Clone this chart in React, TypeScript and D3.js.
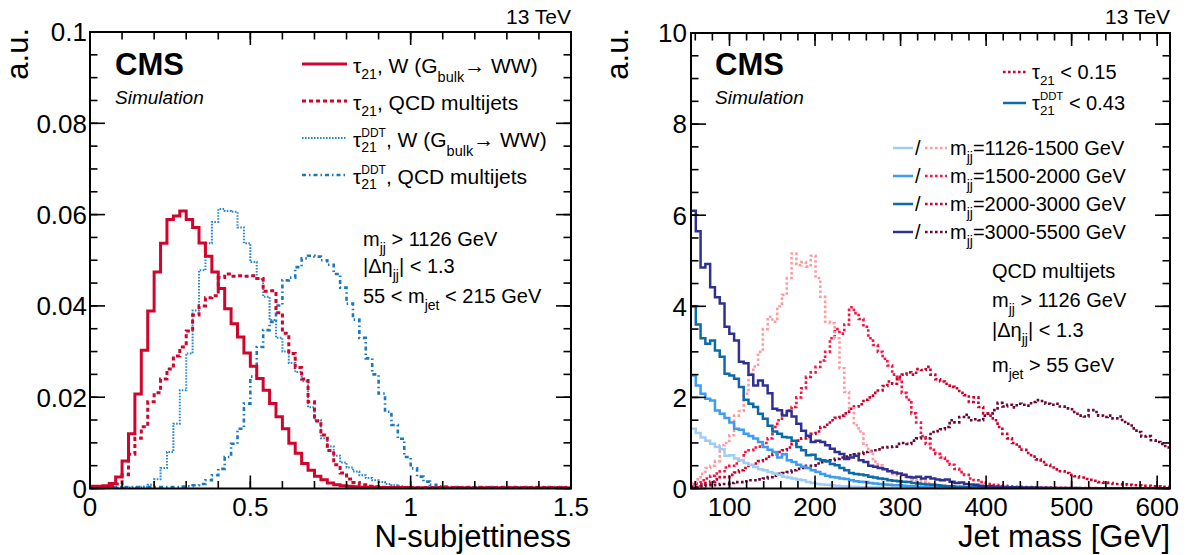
import React from "react";
import * as d3 from "d3";

const FONT = "'Liberation Sans', Arial, Helvetica, sans-serif";

// ---------------- Left panel: N-subjettiness (bins of 0.02 from 0 to 1.5) ----------------
const nsubBinLow = 0;
const nsubBinWidth = 0.02;
const nsubMajorTicks = [0, 0.5, 1, 1.5];
const nsubTickLabels = ["0", "0.5", "1", "1.5"];
const auLeftTicks = [0, 0.02, 0.04, 0.06, 0.08, 0.1];
const auLeftTickLabels = ["0", "0.02", "0.04", "0.06", "0.08", "0.1"];

const tau21W = [
  0.0005, 0.0005, 0.0006, 0.0011, 0.0025, 0.006, 0.012, 0.0207, 0.0303, 0.0389,
  0.0474, 0.0537, 0.0589, 0.0597, 0.0608, 0.0589, 0.0572, 0.0538, 0.0509, 0.0474,
  0.0438, 0.0394, 0.0361, 0.0332, 0.0297, 0.0268, 0.0241, 0.0215, 0.0186, 0.0157,
  0.0131, 0.0099, 0.0077, 0.0055, 0.004, 0.0027, 0.0019, 0.0012, 0.0008, 0.0006,
  0.0005, 0.0004, 0.0003, 0.0003, 0.0003, 0.0002, 0.0002, 0.0002, 0.0002, 0.0002,
  0.0001, 0.0001, 0.0001, 0.0001, 0.0001, 0.0001, 0.0001, 0.0001, 0.0001, 0.0001,
  0.0001, 0.0001, 0.0001, 0.0001, 0.0001, 0.0001, 0.0001, 0.0001, 0.0001, 0.0001,
  0.0001, 0.0001, 0.0001, 0.0001, 0.0001,
];
const tau21QCD = [
  0.0003, 0.0003, 0.0003, 0.0005, 0.001, 0.003, 0.0075, 0.011, 0.0135, 0.019,
  0.021, 0.024, 0.0262, 0.029, 0.031, 0.0345, 0.038, 0.04, 0.0418, 0.0422,
  0.0462, 0.047, 0.0465, 0.0466, 0.0465, 0.0466, 0.046, 0.0432, 0.0433, 0.0385,
  0.034, 0.0296, 0.0265, 0.024, 0.019, 0.0148, 0.0117, 0.0083, 0.0052, 0.0034,
  0.0021, 0.0013, 0.0008, 0.0005, 0.0004, 0.0003, 0.0003, 0.0003, 0.0002, 0.0002,
  0.0002, 0.0002, 0.0002, 0.0002, 0.0002, 0.0002, 0.0002, 0.0002, 0.0002, 0.0002,
  0.0002, 0.0002, 0.0002, 0.0002, 0.0002, 0.0002, 0.0002, 0.0002, 0.0002, 0.0002,
  0.0002, 0.0002, 0.0002, 0.0002, 0.0002,
];
const tau21DDTW = [
  0.0002, 0.0002, 0.0002, 0.0002, 0.0002, 0.0002, 0.0002, 0.0002, 0.0004, 0.0008,
  0.002, 0.0045, 0.008, 0.0142, 0.0215, 0.0296, 0.039, 0.0478, 0.0537, 0.0584,
  0.0612, 0.0608, 0.0606, 0.0572, 0.0537, 0.0496, 0.0459, 0.042, 0.0369, 0.033,
  0.03, 0.0275, 0.0255, 0.0235, 0.0178, 0.015, 0.011, 0.0092, 0.0072, 0.0057,
  0.0046, 0.0037, 0.0029, 0.0023, 0.0018, 0.0014, 0.001, 0.0007, 0.0005, 0.0004,
  0.0003, 0.0003, 0.0003, 0.0003, 0.0002, 0.0002, 0.0002, 0.0002, 0.0002, 0.0002,
  0.0002, 0.0002, 0.0002, 0.0002, 0.0002, 0.0002, 0.0002, 0.0002, 0.0002, 0.0002,
  0.0002, 0.0002, 0.0002, 0.0002, 0.0002,
];
const tau21DDTQCD = [
  0.0003, 0.0003, 0.0003, 0.0003, 0.0003, 0.0003, 0.0003, 0.0003, 0.0003, 0.0003,
  0.0003, 0.0003, 0.0003, 0.0003, 0.0004, 0.0005, 0.0007, 0.001, 0.0018, 0.0029,
  0.0043, 0.0069, 0.0098, 0.0131, 0.0186, 0.0245, 0.031, 0.0347, 0.0365, 0.0401,
  0.0456, 0.0462, 0.0485, 0.0504, 0.051, 0.0508, 0.05, 0.049, 0.047, 0.044,
  0.0405, 0.037, 0.033, 0.0285, 0.025, 0.0208, 0.0168, 0.0139, 0.0109, 0.0069,
  0.0044, 0.0026, 0.0015, 0.0008, 0.0005, 0.0004, 0.0003, 0.0003, 0.0003, 0.0003,
  0.0003, 0.0003, 0.0003, 0.0003, 0.0003, 0.0003, 0.0003, 0.0003, 0.0003, 0.0003,
  0.0003, 0.0003, 0.0003, 0.0003, 0.0003,
];

// ---------------- Right panel: jet mass (bins of 5.6 GeV from 55 to 615) ----------------
const massBinLow = 55;
const massBinWidth = 5.6;
const massMajorTicks = [100, 200, 300, 400, 500, 600];
const massTickLabels = ["100", "200", "300", "400", "500", "600"];
const auRightTicks = [0, 2, 4, 6, 8, 10];
const auRightTickLabels = ["0", "2", "4", "6", "8", "10"];

// tau21DDT < 0.43 (solid)
const ddt1126 = [
  1.31, 1.22, 1.12, 1.05, 0.98, 0.91, 0.86, 0.72, 0.73, 0.66,
  0.62, 0.56, 0.52, 0.47, 0.42, 0.4, 0.36, 0.33, 0.3, 0.26,
  0.24, 0.22, 0.2, 0.18, 0.14, 0.12, 0.1, 0.09, 0.08, 0.07,
  0.06, 0.05, 0.05, 0.04, 0.04, 0.03, 0.03, 0.02, 0.02, 0.02,
  0.015, 0.015, 0.01, 0.01, 0.01, 0.008, 0.008, 0.006, 0.006, 0.005,
  0.005, 0.004, 0.004, 0.004, 0.003, 0.003, 0.003, 0.003, 0.002, 0.002,
  0.002, 0.002, 0.002, 0.002, 0.002, 0.002, 0.002, 0.002, 0.002, 0.002,
  0.002, 0.002, 0.002, 0.002, 0.002, 0.002, 0.002, 0.002, 0.002, 0.002,
  0.002, 0.002, 0.002, 0.002, 0.002, 0.002, 0.002, 0.002, 0.002, 0.002,
  0.002, 0.002, 0.002, 0.002, 0.002, 0.002, 0.002, 0.002, 0.002, 0.002,
];
const ddt1500 = [
  2.48, 2.26, 2.08, 1.97, 1.93, 1.71, 1.64, 1.55, 1.45, 1.31,
  1.29, 1.2, 1.15, 1.1, 1.02, 0.91, 0.85, 0.8, 0.68, 0.75,
  0.62, 0.58, 0.52, 0.48, 0.45, 0.4, 0.36, 0.32, 0.28, 0.25,
  0.24, 0.22, 0.21, 0.18, 0.16, 0.15, 0.14, 0.12, 0.11, 0.1,
  0.09, 0.08, 0.07, 0.07, 0.06, 0.05, 0.05, 0.04, 0.04, 0.03,
  0.03, 0.03, 0.02, 0.02, 0.02, 0.02, 0.015, 0.015, 0.01, 0.01,
  0.01, 0.01, 0.008, 0.008, 0.008, 0.006, 0.006, 0.006, 0.005, 0.005,
  0.005, 0.004, 0.004, 0.004, 0.004, 0.003, 0.003, 0.003, 0.003, 0.003,
  0.002, 0.002, 0.002, 0.002, 0.002, 0.002, 0.002, 0.002, 0.002, 0.002,
  0.002, 0.002, 0.002, 0.002, 0.002, 0.002, 0.002, 0.002, 0.002, 0.002,
];
const ddt2000 = [
  4.0, 3.6, 3.3, 3.18, 3.25, 3.03, 2.89, 2.52, 2.48, 2.41,
  2.23, 1.95, 1.86, 1.79, 1.64, 1.53, 1.38, 1.25, 1.2, 1.13,
  1.12, 1.05, 0.91, 0.84, 0.73, 0.74, 0.65, 0.62, 0.6, 0.54,
  0.51, 0.45, 0.4, 0.34, 0.32, 0.31, 0.29, 0.26, 0.24, 0.22,
  0.21, 0.18, 0.17, 0.16, 0.15, 0.14, 0.12, 0.11, 0.1, 0.09,
  0.08, 0.07, 0.06, 0.05, 0.05, 0.04, 0.04, 0.03, 0.03, 0.03,
  0.02, 0.02, 0.02, 0.02, 0.02, 0.015, 0.015, 0.015, 0.01, 0.01,
  0.01, 0.01, 0.01, 0.008, 0.008, 0.008, 0.006, 0.006, 0.006, 0.005,
  0.005, 0.005, 0.004, 0.004, 0.004, 0.004, 0.003, 0.003, 0.003, 0.003,
  0.003, 0.002, 0.002, 0.002, 0.002, 0.002, 0.002, 0.002, 0.002, 0.002,
];
const ddt3000 = [
  6.1, 5.65, 4.85, 4.93, 4.42, 4.2, 4.06, 3.55, 3.4, 3.25,
  2.78, 2.75, 2.5, 2.26, 2.37, 2.26, 2.09, 1.75, 1.72, 1.6,
  1.7, 1.58, 1.42, 1.27, 1.16, 1.02, 1.05, 1.02, 0.95, 0.87,
  0.8, 0.76, 0.65, 0.68, 0.72, 0.62, 0.58, 0.5, 0.48, 0.45,
  0.42, 0.38, 0.35, 0.33, 0.3, 0.25, 0.24, 0.26, 0.22, 0.25,
  0.22, 0.2, 0.18, 0.2, 0.15, 0.12, 0.13, 0.1, 0.09, 0.08,
  0.06, 0.05, 0.05, 0.04, 0.04, 0.035, 0.03, 0.03, 0.025, 0.02,
  0.02, 0.02, 0.015, 0.015, 0.015, 0.01, 0.01, 0.01, 0.01, 0.01,
  0.01, 0.008, 0.008, 0.008, 0.006, 0.006, 0.006, 0.005, 0.005, 0.005,
  0.004, 0.004, 0.004, 0.004, 0.003, 0.003, 0.003, 0.003, 0.003, 0.003,
];
// tau21 < 0.15 (dotted)
const t21_1126 = [
  0.1, 0.2, 0.32, 0.45, 0.5, 0.6, 0.95, 1.0, 1.17, 1.6,
  1.7, 2.08, 2.52, 2.68, 3.0, 3.5, 3.77, 3.66, 4.0, 4.25,
  4.62, 5.16, 4.9, 4.97, 4.87, 5.11, 4.62, 4.21, 3.66, 3.63,
  3.3, 2.64, 2.12, 1.76, 1.39, 1.25, 0.95, 0.81, 0.59, 0.51,
  0.45, 0.4, 0.32, 0.29, 0.26, 0.25, 0.2, 0.18, 0.15, 0.12,
  0.1, 0.08, 0.07, 0.06, 0.05, 0.04, 0.04, 0.03, 0.03, 0.02,
  0.02, 0.02, 0.015, 0.015, 0.01, 0.01, 0.01, 0.01, 0.008, 0.008,
  0.008, 0.006, 0.006, 0.006, 0.005, 0.005, 0.005, 0.004, 0.004, 0.004,
  0.004, 0.003, 0.003, 0.003, 0.003, 0.003, 0.003, 0.003, 0.003, 0.003,
  0.003, 0.003, 0.003, 0.003, 0.003, 0.003, 0.003, 0.003, 0.003, 0.003,
];
const t21_1500 = [
  0.1, 0.12, 0.18, 0.22, 0.28, 0.33, 0.38, 0.46, 0.5, 0.55,
  0.62, 0.8, 0.84, 0.9, 0.92, 1.0, 1.1, 1.35, 1.5, 1.64,
  1.71, 1.79, 2.0, 2.2, 2.45, 2.55, 2.67, 2.81, 3.0, 3.3,
  3.5, 3.4, 3.6, 3.98, 3.85, 3.72, 3.55, 3.3, 3.15, 3.0,
  2.85, 2.7, 2.5, 2.4, 2.1, 1.95, 1.65, 1.45, 1.15, 0.98,
  0.85, 0.76, 0.68, 0.6, 0.52, 0.43, 0.36, 0.3, 0.22, 0.18,
  0.14, 0.12, 0.1, 0.08, 0.07, 0.06, 0.05, 0.04, 0.04, 0.03,
  0.03, 0.03, 0.02, 0.02, 0.02, 0.02, 0.015, 0.015, 0.01, 0.01,
  0.01, 0.01, 0.008, 0.008, 0.008, 0.006, 0.006, 0.006, 0.005, 0.005,
  0.005, 0.005, 0.004, 0.004, 0.004, 0.004, 0.004, 0.003, 0.003, 0.003,
];
const t21_2000 = [
  0.08, 0.1, 0.1, 0.12, 0.15, 0.2, 0.25, 0.25, 0.3, 0.35,
  0.4, 0.45, 0.5, 0.55, 0.6, 0.65, 0.7, 0.75, 0.8, 0.84,
  0.9, 0.98, 1.05, 1.1, 1.13, 1.2, 1.25, 1.35, 1.4, 1.5,
  1.55, 1.6, 1.65, 1.75, 1.8, 1.85, 1.95, 2.0, 2.1, 2.15,
  2.25, 2.35, 2.3, 2.45, 2.5, 2.55, 2.5, 2.62, 2.6, 2.67,
  2.5, 2.4, 2.35, 2.3, 2.23, 2.2, 2.1, 2.05, 1.9, 2.0,
  1.79, 1.65, 1.6, 1.5, 1.35, 1.2, 1.1, 1.0, 0.92, 0.85,
  0.78, 0.7, 0.64, 0.58, 0.52, 0.46, 0.42, 0.38, 0.34, 0.3,
  0.27, 0.24, 0.21, 0.19, 0.17, 0.14, 0.13, 0.12, 0.1, 0.1,
  0.09, 0.08, 0.07, 0.07, 0.06, 0.06, 0.05, 0.05, 0.04, 0.04,
];
const t21_3000 = [
  0.03, 0.03, 0.05, 0.07, 0.07, 0.08, 0.1, 0.1, 0.12, 0.14,
  0.14, 0.16, 0.18, 0.18, 0.2, 0.22, 0.25, 0.28, 0.32, 0.34,
  0.36, 0.4, 0.43, 0.45, 0.5, 0.5, 0.55, 0.58, 0.6, 0.62,
  0.65, 0.68, 0.7, 0.73, 0.75, 0.76, 0.8, 0.82, 0.84, 0.86,
  0.9, 0.91, 0.92, 0.98, 1.0, 0.98, 1.05, 1.1, 1.12, 1.1,
  1.24, 1.26, 1.3, 1.35, 1.5, 1.45, 1.57, 1.62, 1.5, 1.52,
  1.5, 1.6, 1.65, 1.72, 1.88, 1.8, 1.84, 1.78, 1.86, 1.84,
  1.82, 1.9, 1.94, 1.92, 1.86, 1.84, 1.86, 1.8, 1.76, 1.74,
  1.64, 1.6, 1.58, 1.72, 1.68, 1.6, 1.57, 1.6, 1.54, 1.58,
  1.46, 1.42, 1.32, 1.24, 1.14, 1.15, 1.06, 1.02, 0.98, 0.9,
];

type Series = { values: number[]; color: string; width: number; dash?: string };

const leftSeries: Series[] = [
  { values: tau21DDTQCD, color: "#1a78be", width: 2.6, dash: "4 3 1.5 3" },
  { values: tau21DDTW, color: "#2a88cc", width: 2, dash: "1.6 1.4" },
  { values: tau21QCD, color: "#d0042c", width: 3, dash: "4 3" },
  { values: tau21W, color: "#d0042c", width: 3 },
];

const rightSeries: Series[] = [
  { values: t21_3000, color: "#6d0532", width: 2.6, dash: "2.6 2.4" },
  { values: t21_2000, color: "#d0002e", width: 2.6, dash: "2.6 2.4" },
  { values: t21_1500, color: "#ff1040", width: 2.6, dash: "2.6 2.4" },
  { values: t21_1126, color: "#ff9aa0", width: 2.6, dash: "2.6 2.4" },
  { values: ddt1126, color: "#a0cdf5", width: 2.5 },
  { values: ddt1500, color: "#3d9cf0", width: 2.5 },
  { values: ddt2000, color: "#0c6aa6", width: 2.5 },
  { values: ddt3000, color: "#2e3192", width: 2.5 },
];

const mjjLabels = ["=1126-1500 GeV", "=1500-2000 GeV", "=2000-3000 GeV", "=3000-5500 GeV"];
const mjjSolidColors = ["#a0cdf5", "#3d9cf0", "#0c6aa6", "#2e3192"];
const mjjDottedColors = ["#ff9aa0", "#ff1040", "#d0002e", "#6d0532"];

function stepPath(vals: number[], lo: number, w: number, xs: any, ys: any) {
  const pts: [number, number][] = vals.map((v, i) => [lo + i * w, v]);
  pts.push([lo + vals.length * w, vals[vals.length - 1]]);
  return d3
    .line<[number, number]>()
    .x((d) => xs(d[0]))
    .y((d) => ys(d[1]))
    .curve(d3.curveStepAfter)(pts) as string;
}

function Frame({ xs, ys, xMajor, xMinor, yMajor, yMinor }: any) {
  const [x0, x1] = xs.range();
  const [yb, yt] = ys.range();
  const MX = 13, MY = 15, m = 7.5;
  const els: any[] = [];
  xMinor.forEach((v: number, i: number) => {
    const x = xs(v);
    els.push(<line key={"xb" + i} x1={x} x2={x} y1={yb} y2={yb - m} />);
    els.push(<line key={"xt" + i} x1={x} x2={x} y1={yt} y2={yt + m} />);
  });
  xMajor.forEach((v: number, i: number) => {
    const x = xs(v);
    els.push(<line key={"Xb" + i} x1={x} x2={x} y1={yb} y2={yb - MX} />);
    els.push(<line key={"Xt" + i} x1={x} x2={x} y1={yt} y2={yt + MX} />);
  });
  yMinor.forEach((v: number, i: number) => {
    const y = ys(v);
    els.push(<line key={"yl" + i} x1={x0} x2={x0 + m} y1={y} y2={y} />);
    els.push(<line key={"yr" + i} x1={x1} x2={x1 - m} y1={y} y2={y} />);
  });
  yMajor.forEach((v: number, i: number) => {
    const y = ys(v);
    els.push(<line key={"Yl" + i} x1={x0} x2={x0 + MY} y1={y} y2={y} />);
    els.push(<line key={"Yr" + i} x1={x1} x2={x1 - MY} y1={y} y2={y} />);
  });
  return (
    <g stroke="#000" strokeWidth={1.6} fill="none">
      {els}
      <rect x={x0} y={yt} width={x1 - x0} height={yb - yt} strokeWidth={2} />
    </g>
  );
}

// tau_21 symbol (optionally with DDT superscript), followed by the rest of the text
function TauText({ x, y, ddt, size = 21, rest }: { x: number; y: number; ddt?: boolean; size?: number; rest: any }) {
  if (!ddt) {
    return (
      <text x={x} y={y} fontSize={size}>
        <tspan>τ</tspan>
        <tspan fontSize={size * 0.67} dy={6}>21</tspan>
        <tspan dy={-6}>{rest[0]}</tspan>
        {rest.slice(1)}
      </text>
    );
  }
  const supW = 2.055 * size * 0.57;
  const subW = 1.112 * size * 0.67;
  return (
    <text x={x} y={y} fontSize={size}>
      <tspan>τ</tspan>
      <tspan fontSize={size * 0.57} dy={-10}>DDT</tspan>
      <tspan fontSize={size * 0.67} dx={-supW} dy={15}>21</tspan>
      <tspan dx={supW - subW} dy={-5}>{rest[0]}</tspan>
      {rest.slice(1)}
    </text>
  );
}

const bulkTail = [
  ", W (G",
  <tspan key="b" fontSize={14.5} dy={9}>bulk</tspan>,
  <tspan key="a" dy={-9}>→ WW)</tspan>,
];

export default function App() {
  const xL = d3.scaleLinear().domain([0, 1.5]).range([90, 571]);
  const yL = d3.scaleLinear().domain([0, 0.1]).range([488.5, 32]);
  const xR = d3.scaleLinear().domain([55, 615]).range([691, 1170]);
  const yR = d3.scaleLinear().domain([0, 10]).range([488.5, 33]);

  const legendRowsL = [64, 101, 138, 175];
  const mjjRows = [148, 176, 204, 232];

  return (
    <svg
      width={1192}
      height={555}
      style={{ position: "absolute", left: 0, top: 0, background: "#fff" }}
      fontFamily={FONT}
    >
      <defs>
        <clipPath id="clipL">
          <rect x={90} y={32} width={481} height={456.5} />
        </clipPath>
        <clipPath id="clipR">
          <rect x={691} y={33} width={479} height={455.5} />
        </clipPath>
      </defs>

      {/* ---------------- LEFT PANEL ---------------- */}
      <g clipPath="url(#clipL)">
        {leftSeries.map((s, i) => (
          <path
            key={i}
            d={stepPath(s.values, nsubBinLow, nsubBinWidth, xL, yL)}
            fill="none"
            stroke={s.color}
            strokeWidth={s.width}
            strokeDasharray={s.dash}
          />
        ))}
      </g>
      <Frame
        xs={xL}
        ys={yL}
        xMajor={nsubMajorTicks}
        xMinor={d3.range(0, 1.5001, 0.1)}
        yMajor={auLeftTicks}
        yMinor={d3.range(0, 0.1001, 0.005)}
      />
      <g fontSize={26} fill="#000">
        {auLeftTicks.map((v, i) => (
          <text key={i} x={87} y={yL(v)} dy="0.36em" textAnchor="end">
            {auLeftTickLabels[i]}
          </text>
        ))}
        {nsubMajorTicks.map((v, i) => (
          <text key={i} x={xL(v)} y={516} textAnchor="middle">
            {nsubTickLabels[i]}
          </text>
        ))}
      </g>
      <text x={571} y={547} fontSize={31} textAnchor="end">N-subjettiness</text>
      <text transform="translate(28,28) rotate(-90)" fontSize={31} textAnchor="end">a.u.</text>
      <text x={571} y={24} fontSize={21} textAnchor="end">13 TeV</text>
      <text x={115} y={75} fontSize={31} fontWeight="bold">CMS</text>
      <text x={115} y={104} fontSize={19} fontStyle="italic">Simulation</text>

      {/* left legend */}
      <g>
        <line x1={302} x2={347} y1={legendRowsL[0]} y2={legendRowsL[0]} stroke="#d0042c" strokeWidth={3} />
        <line x1={302} x2={347} y1={legendRowsL[1]} y2={legendRowsL[1]} stroke="#d0042c" strokeWidth={3} strokeDasharray="4 3" />
        <line x1={302} x2={347} y1={legendRowsL[2]} y2={legendRowsL[2]} stroke="#2a88cc" strokeWidth={2} strokeDasharray="1.6 1.4" />
        <line x1={302} x2={347} y1={legendRowsL[3]} y2={legendRowsL[3]} stroke="#1a78be" strokeWidth={2.6} strokeDasharray="4 3 1.5 3" />
      </g>
      <TauText x={353} y={legendRowsL[0] + 9} rest={bulkTail} />
      <TauText x={353} y={legendRowsL[1] + 9} rest={[", QCD multijets"]} />
      <TauText x={353} y={legendRowsL[2] + 9} ddt rest={bulkTail} />
      <TauText x={353} y={legendRowsL[3] + 9} ddt rest={[", QCD multijets"]} />

      <g fontSize={20}>
        <text x={363} y={246}>
          <tspan>m</tspan>
          <tspan fontSize={14} dy={7}>jj</tspan>
          <tspan dy={-7}> &gt; 1126 GeV</tspan>
        </text>
        <text x={363} y={273}>
          <tspan>|Δη</tspan>
          <tspan fontSize={14} dy={7}>jj</tspan>
          <tspan dy={-7}>| &lt; 1.3</tspan>
        </text>
        <text x={363} y={303}>
          <tspan>55 &lt; m</tspan>
          <tspan fontSize={14} dy={7}>jet</tspan>
          <tspan dy={-7}> &lt; 215 GeV</tspan>
        </text>
      </g>

      {/* ---------------- RIGHT PANEL ---------------- */}
      <g clipPath="url(#clipR)">
        {rightSeries.map((s, i) => (
          <path
            key={i}
            d={stepPath(s.values, massBinLow, massBinWidth, xR, yR)}
            fill="none"
            stroke={s.color}
            strokeWidth={s.width}
            strokeDasharray={s.dash}
          />
        ))}
      </g>
      <Frame
        xs={xR}
        ys={yR}
        xMajor={massMajorTicks}
        xMinor={d3.range(60, 615, 20)}
        yMajor={auRightTicks}
        yMinor={d3.range(0, 10.001, 0.5)}
      />
      <g fontSize={26} fill="#000">
        {auRightTicks.map((v, i) => (
          <text key={i} x={687} y={yR(v)} dy="0.36em" textAnchor="end">
            {auRightTickLabels[i]}
          </text>
        ))}
        {massMajorTicks.map((v, i) => (
          <text key={i} x={xR(v)} y={516} textAnchor="middle">
            {massTickLabels[i]}
          </text>
        ))}
      </g>
      <text x={1170} y={547} fontSize={31} textAnchor="end">Jet mass [GeV]</text>
      <text transform="translate(628,28) rotate(-90)" fontSize={31} textAnchor="end">a.u.</text>
      <text x={1170} y={24} fontSize={21} textAnchor="end">13 TeV</text>
      <text x={715} y={75} fontSize={31} fontWeight="bold">CMS</text>
      <text x={715} y={104} fontSize={19} fontStyle="italic">Simulation</text>

      {/* right legend */}
      <line x1={1003} x2={1026} y1={72} y2={72} stroke="#d0002e" strokeWidth={2.6} strokeDasharray="2.6 2.4" />
      <line x1={1003} x2={1026} y1={103} y2={103} stroke="#0c6aa6" strokeWidth={2.5} />
      <TauText x={1032} y={79} size={20} rest={[" < 0.15"]} />
      <TauText x={1032} y={110} size={20} ddt rest={[" < 0.43"]} />
      {mjjRows.map((y, i) => (
        <g key={i}>
          <line x1={893} x2={913} y1={y} y2={y} stroke={mjjSolidColors[i]} strokeWidth={2.5} />
          <text x={915} y={y + 7} fontSize={20}>/</text>
          <line x1={925} x2={947} y1={y} y2={y} stroke={mjjDottedColors[i]} strokeWidth={2.6} strokeDasharray="2.6 2.4" />
          <text x={950} y={y + 7} fontSize={20}>
            <tspan>m</tspan>
            <tspan fontSize={14} dy={7}>jj</tspan>
            <tspan dy={-7}>{mjjLabels[i]}</tspan>
          </text>
        </g>
      ))}
      <g fontSize={20}>
        <text x={992} y={278}>QCD multijets</text>
        <text x={992} y={307}>
          <tspan>m</tspan>
          <tspan fontSize={14} dy={7}>jj</tspan>
          <tspan dy={-7}> &gt; 1126 GeV</tspan>
        </text>
        <text x={992} y={337}>
          <tspan>|Δη</tspan>
          <tspan fontSize={14} dy={7}>jj</tspan>
          <tspan dy={-7}>| &lt; 1.3</tspan>
        </text>
        <text x={992} y={372}>
          <tspan>m</tspan>
          <tspan fontSize={14} dy={7}>jet</tspan>
          <tspan dy={-7}> &gt; 55 GeV</tspan>
        </text>
      </g>
    </svg>
  );
}
